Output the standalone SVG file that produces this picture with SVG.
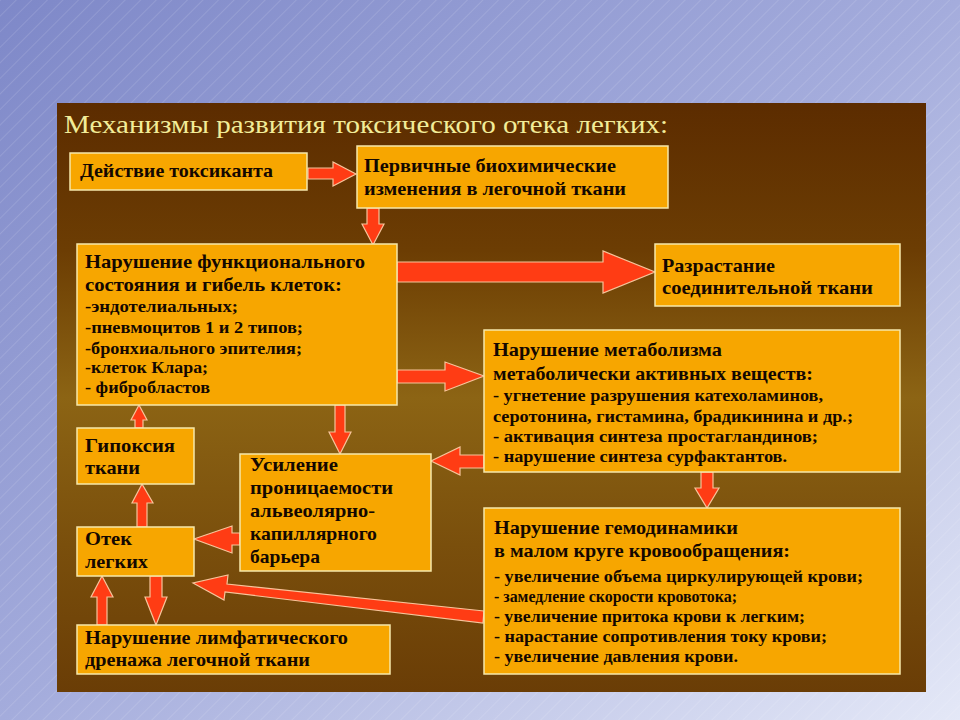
<svg xmlns="http://www.w3.org/2000/svg" width="960" height="720" viewBox="0 0 960 720">
<defs>
<linearGradient id="bg" x1="0" y1="0" x2="1" y2="1">
<stop offset="0" stop-color="#7e88c8"/>
<stop offset="0.5" stop-color="#a4acdc"/>
<stop offset="1" stop-color="#e4e8f7"/>
</linearGradient>
<pattern id="hatch" width="11" height="11" patternUnits="userSpaceOnUse" patternTransform="rotate(45)">
<line x1="0" y1="0" x2="0" y2="11" stroke="#ffffff" stroke-width="0.7" stroke-opacity="0.35"/>
</pattern>
<linearGradient id="panel" x1="0" y1="0" x2="0" y2="1">
<stop offset="0" stop-color="#5c2c00"/>
<stop offset="0.25" stop-color="#6c3d03"/>
<stop offset="0.5" stop-color="#8c6414"/>
<stop offset="0.75" stop-color="#7a4f0c"/>
<stop offset="1" stop-color="#6a3d06"/>
</linearGradient>
<style>
.box{fill:#f7a600;stroke:#f6e7aa;stroke-width:1.5}
.arr{fill:#ff3c14;stroke:#f7c49a;stroke-width:1.2;stroke-linejoin:miter}
.h{font-family:"Liberation Serif","Times New Roman",serif;font-weight:bold;font-size:19px;fill:#140800}
.s{font-family:"Liberation Serif","Times New Roman",serif;font-weight:bold;font-size:16px;fill:#140800}
.title{font-family:"Liberation Serif","Times New Roman",serif;font-size:26px;fill:#f2ec98}
</style>
</defs>
<rect x="0" y="0" width="960" height="720" fill="url(#bg)"/>
<rect x="0" y="0" width="960" height="720" fill="url(#hatch)"/>
<rect x="57" y="103" width="869" height="589" fill="url(#panel)"/>
<text class="title" x="64" y="133" textLength="604" lengthAdjust="spacingAndGlyphs">Механизмы развития токсического отека легких:</text>

<g id="connectors">
<polygon class="arr" points="308,168 333,168 333,162 356,174 333,186 333,179 308,179"/>
<polygon class="arr" points="367,208 379,208 379,224 384,224 373,245 362,224 367,224"/>
<polygon class="arr" points="397,262 603,262 603,251 655,272 603,293 603,282 397,282"/>
<polygon class="arr" points="397,370 445,370 445,362 484,376 445,391 445,383 397,383"/>
<polygon class="arr" points="335,405 345,405 345,432 351,432 340,454 329,432 335,432"/>
<polygon class="arr" points="484,455 460,455 460,447 431,461 460,475 460,468 484,468"/>
<polygon class="arr" points="701,472 713,472 713,488 719,488 707,508 695,488 701,488"/>
<polygon class="arr" points="240,533 232,533 232,526 194,539 232,553 232,545 240,545"/>
<polygon class="arr" points="137,527 137,503 132,503 142,484 153,503 147,503 147,527"/>
<polygon class="arr" points="135,428 135,420 131,420 139,405 147,420 143,420 143,428"/>
<polygon class="arr" points="150,576 162,576 162,597 167,597 156,625 145,597 150,597"/>
<polygon class="arr" points="97,625 97,597 91,597 102,576 113,597 107,597 107,625"/>
<polygon class="arr" points="484,611 227,584 228,575 193,583 224,600 225,592 483,623"/>
</g>

<g id="n1"><rect class="box" x="70" y="153" width="237" height="37"/>
<text class="h" x="80" y="177" textLength="193" lengthAdjust="spacingAndGlyphs">Действие токсиканта</text></g>

<g id="n2"><rect class="box" x="357" y="146" width="311" height="62"/>
<text class="h" x="364" y="172" textLength="252" lengthAdjust="spacingAndGlyphs">Первичные биохимические</text>
<text class="h" x="364" y="195" textLength="262" lengthAdjust="spacingAndGlyphs">изменения в легочной ткани</text></g>

<g id="n3"><rect class="box" x="77" y="244" width="320" height="161"/>
<text class="h" x="85" y="268" textLength="280" lengthAdjust="spacingAndGlyphs">Нарушение функционального</text>
<text class="h" x="85" y="291" textLength="257" lengthAdjust="spacingAndGlyphs">состояния и гибель клеток:</text>
<text class="s" x="85" y="312" textLength="153" lengthAdjust="spacingAndGlyphs">-эндотелиальных;</text>
<text class="s" x="85" y="333" textLength="218" lengthAdjust="spacingAndGlyphs">-пневмоцитов 1 и 2 типов;</text>
<text class="s" x="85" y="354" textLength="217" lengthAdjust="spacingAndGlyphs">-бронхиального эпителия;</text>
<text class="s" x="85" y="373" textLength="123" lengthAdjust="spacingAndGlyphs">-клеток Клара;</text>
<text class="s" x="85" y="393" textLength="125" lengthAdjust="spacingAndGlyphs">- фибробластов</text></g>

<g id="n4"><rect class="box" x="655" y="244" width="245" height="62"/>
<text class="h" x="662" y="272" textLength="113" lengthAdjust="spacingAndGlyphs">Разрастание</text>
<text class="h" x="662" y="294" textLength="211" lengthAdjust="spacingAndGlyphs">соединительной ткани</text></g>

<g id="n5"><rect class="box" x="484" y="330" width="416" height="142"/>
<text class="h" x="493" y="356" textLength="229" lengthAdjust="spacingAndGlyphs">Нарушение метаболизма</text>
<text class="h" x="493" y="380" textLength="320" lengthAdjust="spacingAndGlyphs">метаболически активных веществ:</text>
<text class="s" x="493" y="401" textLength="330" lengthAdjust="spacingAndGlyphs">- угнетение разрушения  катехоламинов,</text>
<text class="s" x="493" y="422" textLength="360" lengthAdjust="spacingAndGlyphs">серотонина, гистамина, брадикинина и др.;</text>
<text class="s" x="493" y="442" textLength="325" lengthAdjust="spacingAndGlyphs">- активация синтеза  простагландинов;</text>
<text class="s" x="493" y="462" textLength="294" lengthAdjust="spacingAndGlyphs">- нарушение синтеза  сурфактантов.</text></g>

<g id="n6"><rect class="box" x="77" y="428" width="117" height="56"/>
<text class="h" x="85" y="452" textLength="90" lengthAdjust="spacingAndGlyphs">Гипоксия</text>
<text class="h" x="85" y="474" textLength="55" lengthAdjust="spacingAndGlyphs">ткани</text></g>

<g id="n7"><rect class="box" x="240" y="454" width="191" height="117"/>
<text class="h" x="250" y="471" textLength="88" lengthAdjust="spacingAndGlyphs">Усиление</text>
<text class="h" x="250" y="494" textLength="143" lengthAdjust="spacingAndGlyphs">проницаемости</text>
<text class="h" x="250" y="517" textLength="125" lengthAdjust="spacingAndGlyphs">альвеолярно-</text>
<text class="h" x="250" y="540" textLength="127" lengthAdjust="spacingAndGlyphs">капиллярного</text>
<text class="h" x="250" y="563" textLength="70" lengthAdjust="spacingAndGlyphs">барьера</text></g>

<g id="n8"><rect class="box" x="77" y="527" width="117" height="49"/>
<text class="h" x="85" y="545" textLength="47" lengthAdjust="spacingAndGlyphs">Отек</text>
<text class="h" x="85" y="568" textLength="63" lengthAdjust="spacingAndGlyphs">легких</text></g>

<g id="n9"><rect class="box" x="77" y="625" width="313" height="49"/>
<text class="h" x="85" y="644" textLength="263" lengthAdjust="spacingAndGlyphs">Нарушение лимфатического</text>
<text class="h" x="85" y="666" textLength="225" lengthAdjust="spacingAndGlyphs">дренажа легочной ткани</text></g>

<g id="n10"><rect class="box" x="484" y="508" width="416" height="166"/>
<text class="h" x="494" y="534" textLength="244" lengthAdjust="spacingAndGlyphs">Нарушение гемодинамики</text>
<text class="h" x="494" y="557" textLength="296" lengthAdjust="spacingAndGlyphs">в малом круге кровообращения:</text>
<text class="s" x="494" y="582" textLength="369" lengthAdjust="spacingAndGlyphs">- увеличение объема  циркулирующей крови;</text>
<text class="s" x="494" y="602" textLength="243" lengthAdjust="spacingAndGlyphs">- замедление скорости кровотока;</text>
<text class="s" x="494" y="622" textLength="311" lengthAdjust="spacingAndGlyphs">- увеличение притока крови к легким;</text>
<text class="s" x="494" y="642" textLength="333" lengthAdjust="spacingAndGlyphs">- нарастание сопротивления току крови;</text>
<text class="s" x="494" y="662" textLength="244" lengthAdjust="spacingAndGlyphs">- увеличение давления крови.</text></g>
</svg>
